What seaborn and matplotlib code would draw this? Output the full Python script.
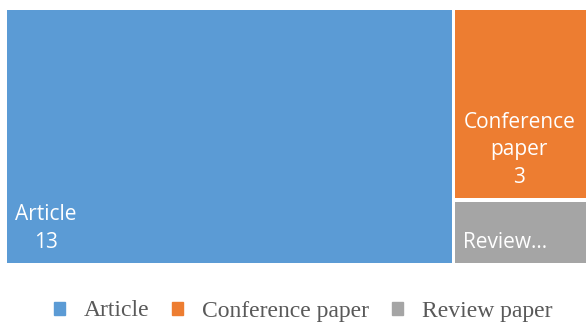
import matplotlib.pyplot as plt
import matplotlib.patches as mpatches
import seaborn as sns

# Document types and their counts
categories = ["Article", "Conference paper", "Review paper"]
counts = [13, 3, 1]
tile_labels = ["Article\n13", "Conference\npaper\n3", "Review\u2026"]
colors = ["#5B9BD5", "#ED7D31", "#A5A5A5"]

sns.set_theme(style="white")
plt.rcParams["font.family"] = ["Open Sans", "DejaVu Sans"]

fig = plt.figure(figsize=(5.86, 3.24), dpi=100)
ax = fig.add_axes([7 / 586, 61 / 324, 584 / 586, 253 / 324])
total = sum(counts)
ax.set_xlim(0, total)
ax.set_ylim(0, 1)
ax.axis("off")

# simple treemap layout: first item is a full-height column, rest stacked on the right
gx = 3.5 / 584 * total
gy = 3.5 / 253
rects = [(0, 0, counts[0] - gx / 2, 1)]
rest = sum(counts[1:])
top = 1.0
for c in counts[1:]:
    h = c / rest
    y0 = top - h
    rects.append((counts[0] + gx / 2, y0 + (gy / 2 if y0 > 0 else 0), total - counts[0] - gx / 2,
                  h - (gy / 2 if y0 > 0 else 0) - (gy / 2 if top < 1 else 0)))
    top = y0

px = total / 584
py = 1 / 253
for (x, y, w, h), lab, col in zip(rects, tile_labels, colors):
    ax.add_patch(mpatches.Rectangle((x, y), w, h, facecolor=col, edgecolor="none"))
    ax.text(x + 8 * px, y + 10 * py, lab, ha="left", va="bottom", multialignment="center",
            color="white", fontsize=15, linespacing=1.42)

handles = [mpatches.Patch(color=c) for c in colors]
fig.legend(handles, categories, loc="center", bbox_to_anchor=(0.517, 1 - 311 / 324), ncol=3,
           frameon=False, prop={"family": "Liberation Serif", "size": 17}, labelcolor="#595959",
           handlelength=0.48, handleheight=0.48, handletextpad=0.8, columnspacing=0.95)

fig.savefig("out.png", dpi=100)
